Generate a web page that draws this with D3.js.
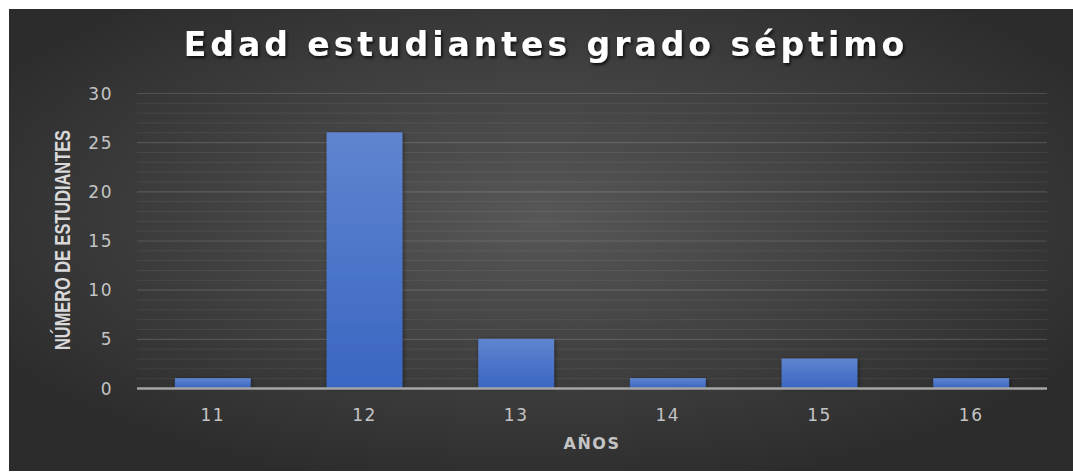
<!DOCTYPE html>
<html>
<head>
<meta charset="utf-8">
<script src="https://cdn.jsdelivr.net/npm/d3@7"></script>
<style>
  html, body { margin: 0; padding: 0; background: #ffffff; }
  svg { display: block; }
</style>
</head>
<body>
<svg id="chart" width="1073" height="472"></svg>
<script>
const categories = ["11", "12", "13", "14", "15", "16"];
const values = [1, 26, 5, 1, 3, 1];
const yTicks = [0, 5, 10, 15, 20, 25, 30];
const titleText = "Edad estudiantes grado séptimo";
const xTitle = "AÑOS";
const yTitle = "NÚMERO DE ESTUDIANTES";

const svg = d3.select("#chart");
const W = 1073, H = 472;
const defs = svg.append("defs");

const bg = defs.append("radialGradient").attr("id", "bg")
  .attr("cx", "50%").attr("cy", "45%").attr("r", "60%");
bg.append("stop").attr("offset", "0%").attr("stop-color", "#575757");
bg.append("stop").attr("offset", "100%").attr("stop-color", "#2c2c2c");

const barG = defs.append("linearGradient").attr("id", "barG")
  .attr("x1", 0).attr("y1", 0).attr("x2", 0).attr("y2", 1);
barG.append("stop").attr("offset", "0%").attr("stop-color", "#5f85d0");
barG.append("stop").attr("offset", "100%").attr("stop-color", "#3a66c2");

const sh = defs.append("filter").attr("id", "sh").attr("x", "-20%").attr("y", "-20%").attr("width", "140%").attr("height", "140%");
sh.append("feDropShadow").attr("dx", 1).attr("dy", 1).attr("stdDeviation", 2)
  .attr("flood-color", "#000").attr("flood-opacity", 0.45);

const tsh = defs.append("filter").attr("id", "tsh").attr("x", "-5%").attr("y", "-30%").attr("width", "110%").attr("height", "160%");
tsh.append("feDropShadow").attr("dx", 1.5).attr("dy", 2).attr("stdDeviation", 1.5)
  .attr("flood-color", "#000").attr("flood-opacity", 0.8);

svg.append("rect").attr("x", 9).attr("y", 9).attr("width", W - 9).attr("height", 462)
  .attr("fill", "url(#bg)");

const m = { left: 137, right: 1047, top: 93, bottom: 388 };
const x = d3.scaleBand().domain(categories).range([m.left, m.right]).paddingInner(0.5).paddingOuter(0.25);
const y = d3.scaleLinear().domain([0, 30]).range([m.bottom, m.top]);

// minor gridlines
const minor = d3.range(1, 31).filter(v => v % 5 !== 0);
svg.append("g").selectAll("line").data(minor).join("line")
  .attr("x1", m.left).attr("x2", m.right)
  .attr("y1", d => y(d) + 0.5).attr("y2", d => y(d) + 0.5)
  .attr("stroke", "#ffffff").attr("stroke-opacity", 0.07).attr("stroke-width", 1);

// major gridlines
svg.append("g").selectAll("line").data(yTicks.filter(v => v > 0)).join("line")
  .attr("x1", m.left).attr("x2", m.right)
  .attr("y1", d => y(d) + 0.5).attr("y2", d => y(d) + 0.5)
  .attr("stroke", "#ffffff").attr("stroke-opacity", 0.14).attr("stroke-width", 1.2);

// bars
svg.append("g").selectAll("rect").data(values).join("rect")
  .attr("x", (d, i) => x(categories[i]))
  .attr("y", d => y(d))
  .attr("width", x.bandwidth())
  .attr("height", d => y(0) - y(d))
  .attr("fill", "url(#barG)")
  .attr("filter", "url(#sh)");

// axis line
svg.append("line").attr("x1", m.left).attr("x2", m.right)
  .attr("y1", y(0) + 0.5).attr("y2", y(0) + 0.5)
  .attr("stroke", "#a6a6a6").attr("stroke-width", 2.5);

// y axis
const yAxis = d3.axisLeft(y).tickValues(yTicks).tickSize(0).tickPadding(0);
const yg = svg.append("g").attr("transform", `translate(113,0)`).call(yAxis);
yg.select(".domain").remove();
yg.selectAll("text").attr("fill", "#c4c4c4").attr("font-family", "DejaVu Sans, sans-serif")
  .attr("font-size", 17).attr("letter-spacing", "1.5px").attr("dy", "0.36em");

// x axis
const xAxis = d3.axisBottom(x).tickSize(0).tickPadding(0);
const xg = svg.append("g").attr("transform", `translate(0,${y(0)})`).call(xAxis);
xg.select(".domain").remove();
xg.selectAll("text").attr("fill", "#c4c4c4").attr("font-family", "DejaVu Sans, sans-serif")
  .attr("font-size", 17).attr("letter-spacing", "1.5px").attr("y", 27).attr("dy", "0.36em");

// title
svg.append("text").attr("x", 546).attr("y", 56).attr("text-anchor", "middle")
  .attr("font-family", "DejaVu Sans, sans-serif").attr("font-weight", "bold")
  .attr("font-size", 33).attr("letter-spacing", "4px")
  .attr("fill", "#ffffff").attr("filter", "url(#tsh)")
  .text(titleText);

// x title
svg.append("text").attr("x", 592).attr("y", 449).attr("text-anchor", "middle")
  .attr("font-family", "DejaVu Sans, sans-serif").attr("font-weight", "bold")
  .attr("font-size", 16).attr("letter-spacing", "1.5px").attr("fill", "#c4c4c4")
  .text(xTitle);

// y title
svg.append("text").attr("transform", "translate(70,240) rotate(-90)").attr("text-anchor", "middle")
  .attr("font-family", "Liberation Sans Narrow, Liberation Sans, sans-serif").attr("font-weight", "bold")
  .attr("font-size", 22).attr("fill", "#d9d9d9")
  .attr("textLength", 220).attr("lengthAdjust", "spacingAndGlyphs")
  .text(yTitle);
</script>
</body>
</html>
